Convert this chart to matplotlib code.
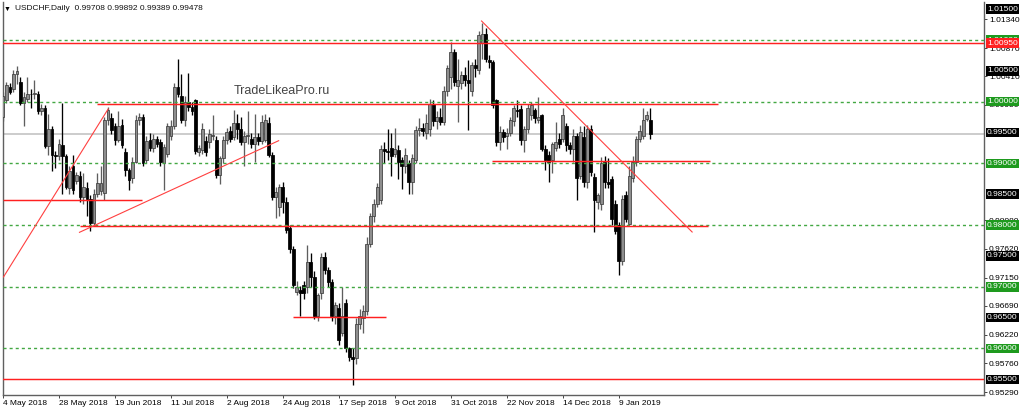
import matplotlib
matplotlib.use("Agg")
import matplotlib.pyplot as plt
import numpy as np

plt.rcParams['font.family'] = ['Liberation Sans', 'DejaVu Sans']

# USDCHF daily candles, prices in 1/10000 (pips)
opens = [9975, 10003, 10024, 10020, 10045, 10032, 9998, 10005, 10013, 10012,
         10012, 9985, 9990, 9928, 9955, 9914, 9912, 9930, 9912, 9860,
         9895, 9872, 9880, 9845, 9860, 9842, 9803, 9850, 9856, 9852,
         9970, 9973, 9960, 9938, 9962, 9918, 9889, 9876, 9903, 9970,
         9976, 9905, 9938, 9925, 9940, 9935, 9900, 9916, 9945, 9960,
         10024, 10010, 9970, 10000, 9992, 10003, 9918, 9922, 9937, 9935,
         9944, 9938, 9882, 9908, 9938, 9952,
         9943, 9965, 9955, 9935,
         9944, 9940, 9932, 9943, 9937, 9938, 9966, 9914, 9846, 9830,
         9862, 9838, 9795, 9762, 9692, 9695, 9703, 9700, 9740, 9716,
         9652, 9690, 9749, 9727, 9708, 9652, 9665, 9625, 9673, 9600,
         9587, 9585, 9640, 9650, 9660, 9770, 9814, 9835, 9840, 9924,
         9920, 9925, 9916, 9922, 9905, 9895, 9900, 9870, 9905, 9954,
         9958, 9950, 9955, 9997, 9968, 9975, 9967, 10018, 10040, 10081,
         10025, 10030, 10043, 10035, 10018, 10060, 10052, 10095, 10110, 10068,
         10065, 10002, 9935, 9951, 9945, 9950, 9968, 9986, 9988, 9938,
         9956, 9978, 9986, 9970, 9978, 9924, 9913, 9905, 9925, 9940,
         9940, 9960, 9930, 9924, 9945, 9880, 9943, 9870, 9956, 9878,
         9838, 9835, 9902, 9870, 9875, 9835, 9800, 9741, 9848, 9802,
         9876, 9902, 9940, 9945, 9972, 9971]
highs = [10015, 10032, 10030, 10052, 10058, 10040, 10015, 10040, 10020, 10035,
         10018, 9996, 9995, 9980, 9960, 9920, 9940, 9998, 9916, 9895,
         9914, 9886, 9888, 9885, 9870, 9848, 9858, 9884, 9896, 9975,
         9992, 9982, 9965, 9985, 9972, 9925, 9892, 9910, 9978, 9982,
         9980, 9945, 9950, 9948, 9945, 9940, 9932, 9965, 9970, 10030,
         10070, 10045, 10010, 10046, 10000, 10005, 9930, 9965, 9945, 9955,
         9978, 9945, 9912, 9945, 9958, 9960,
         9987, 9980, 9975, 9952,
         9985, 9950, 9980, 9950, 9979, 9980, 9975, 9918, 9862, 9866,
         9870, 9845, 9800, 9766, 9710, 9702, 9710, 9768, 9755, 9725,
         9690, 9754, 9757, 9732, 9712, 9675, 9673, 9700, 9680, 9603,
         9600, 9650, 9664, 9670, 9780, 9820, 9843, 9868, 9930, 9934,
         9955, 9950, 9957, 9930, 9910, 9925, 9905, 9915, 9960, 9973,
         9965, 9980, 10005, 10002, 9985, 9990, 10025, 10060, 10097, 10085,
         10070, 10050, 10056, 10067, 10065, 10070, 10115, 10128, 10120, 10075,
         10068, 10005, 9960, 9955, 9958, 9975, 9995, 10002, 9994, 9960,
         9997, 10000, 9990, 10008, 9980, 9930, 9920, 9935, 9967, 9950,
         9990, 9965, 9935, 9955, 9950, 9960, 9960, 9962, 9963, 9885,
         9852, 9910, 9912, 9908, 9880, 9840, 9805, 9848, 9855, 9895,
         9912, 9945, 9962, 9990, 9985, 9989]
lows = [9968, 9998, 10012, 10015, 10028, 9995, 9960, 10000, 9990, 10005,
        9980, 9978, 9925, 9914, 9887, 9893, 9905, 9850, 9858, 9850,
        9850, 9866, 9838, 9835, 9815, 9790, 9798, 9845, 9848, 9840,
        9962, 9948, 9930, 9935, 9925, 9880, 9857, 9868, 9900, 9962,
        9895, 9900, 9920, 9918, 9926, 9895, 9857, 9910, 9938, 9955,
        10008, 9965, 9960, 9985, 9978, 9915, 9912, 9916, 9912, 9925,
        9938, 9876, 9867, 9900, 9932, 9935,
        9938, 9940, 9930, 9895,
        9932, 9925, 9903, 9930, 9932, 9935, 9910, 9840, 9811, 9815,
        9820, 9787, 9755, 9698, 9686, 9652, 9680, 9690, 9700, 9647,
        9645, 9680, 9720, 9700, 9645, 9640, 9605, 9620, 9595, 9580,
        9541, 9575, 9632, 9625, 9655, 9765, 9805, 9830, 9835, 9900,
        9905, 9880, 9910, 9875, 9858, 9885, 9850, 9850, 9900, 9945,
        9945, 9940, 9945, 9960, 9955, 9962, 9962, 10010, 10020, 10025,
        9967, 10020, 10025, 9954, 10010, 10040, 10045, 10070, 10065, 10055,
        9990, 9928, 9921, 9935, 9924, 9945, 9960, 9975, 9930, 9918,
        9950, 9970, 9965, 9965, 9920, 9890, 9870, 9885, 9920, 9925,
        9935, 9920, 9915, 9903, 9840, 9875, 9862, 9860, 9880, 9789,
        9826, 9825, 9860, 9860, 9800, 9785, 9719, 9735, 9805, 9800,
        9870, 9895, 9935, 9940, 9968, 9939]
closes = [10010, 10027, 10016, 10045, 10050, 9998, 10008, 10013, 10012, 10014,
          9985, 9990, 9928, 9955, 9914, 9912, 9932, 9912, 9862, 9888,
          9857, 9881, 9845, 9862, 9842, 9803, 9850, 9868, 9868, 9970,
          9986, 9954, 9938, 9960, 9930, 9889, 9873, 9903, 9970, 9976,
          9900, 9936, 9925, 9940, 9932, 9903, 9927, 9960, 9960, 10024,
          10013, 9970, 10000, 9992, 9985, 9920, 9925, 9955, 9918, 9948,
          9946, 9882, 9908, 9938, 9951, 9940,
          9965, 9955, 9935, 9944,
          9946, 9932, 9943, 9937, 9967, 9970, 9914, 9846, 9854, 9862,
          9838, 9792, 9762, 9703, 9700, 9690, 9690, 9740, 9716, 9652,
          9687, 9749, 9727, 9708, 9652, 9670, 9614, 9652, 9600, 9587,
          9583, 9640, 9652, 9660, 9770, 9814, 9835, 9862, 9924, 9920,
          9918, 9912, 9924, 9903, 9895, 9914, 9870, 9908, 9954, 9957,
          9952, 9965, 9997, 9968, 9975, 9967, 10018, 10054, 10081, 10032,
          10035, 10043, 10035, 10030, 10059, 10054, 10108, 10110, 10070, 10065,
          9994, 9935, 9951, 9943, 9950, 9970, 9989, 9985, 9938, 9956,
          9990, 9994, 9973, 9975, 9924, 9905, 9903, 9932, 9935, 9932,
          9978, 9930, 9924, 9945, 9876, 9951, 9870, 9956, 9886, 9840,
          9848, 9900, 9870, 9866, 9810, 9790, 9741, 9843, 9810, 9880,
          9902, 9940, 9953, 9970, 9978, 9948]

date_ticks = [0, 16, 32, 48, 64, 80, 96, 112, 128, 144, 160, 176]
date_labels = ["4 May 2018", "28 May 2018", "19 Jun 2018", "11 Jul 2018", "2 Aug 2018",
               "24 Aug 2018", "17 Sep 2018", "9 Oct 2018", "31 Oct 2018", "22 Nov 2018",
               "14 Dec 2018", "9 Jan 2019"]

# drawn objects
green_levels = [1.0100, 1.0000, 0.9900, 0.9800, 0.9700, 0.9600]
red_levels = [1.0095, 0.9550]
bid_price = 0.99478
# (price, first bar, last bar)
red_segments = [(0.99963, 26.9, 204.4), (0.99042, 139.8, 202.1), (0.98400, 0.0, 39.8),
                (0.97983, 21.9, 201.6), (0.96508, 82.8, 109.6)]
# (bar1, price1, bar2, price2)
trend_lines = [(0.14, 0.97159, 30.06, 0.99882), (21.86, 0.97883, 78.8, 0.99368),
               (136.8, 1.01308, 197.0, 0.97888)]

# price scale labels that are not covered by the level boxes
scale_ticks = [1.0134, 1.0087, 1.0041, 0.9995, 0.9808,
               0.9762, 0.9715, 0.9669, 0.9622, 0.9576, 0.9529]
black_boxes = [1.015, 1.005, 0.995, 0.985, 0.975, 0.965, 0.955]

assert len(opens) == len(highs) == len(lows) == len(closes)

o = np.array(opens) / 10000
h = np.array(highs) / 10000
l = np.array(lows) / 10000
c = np.array(closes) / 10000
idx = np.arange(len(c))
up = c >= o

fig = plt.figure(figsize=(10.24, 4.13), dpi=100)
ax = fig.add_axes([3 / 1024, 18.3 / 413, 981 / 1024, 392.7 / 413])

#bid line behind candles
ax.axhline(bid_price, color='#c4c4c4', lw=1.2, zorder=1)

#candles
ax.vlines(idx[up], l[up], h[up], color='#5e5e5e', lw=0.95, zorder=3)
ax.vlines(idx[~up], l[~up], h[~up], color='black', lw=0.95, zorder=3)
body = np.maximum(np.abs(c - o), 0.00004)
bottom = np.minimum(o, c)
ax.bar(idx[up], body[up], bottom=bottom[up], width=0.8, color='#8e8e8e',
       edgecolor='#3c3c3c', linewidth=0.55, zorder=4)
ax.bar(idx[~up], body[~up], bottom=bottom[~up], width=0.8, color='black',
       edgecolor='black', linewidth=0.55, zorder=4)

#horizontal levels
for p in green_levels:
    ax.axhline(p, color='#43a843', lw=1.0, ls=(0, (2.2, 2.2)), zorder=5)
for p in red_levels:
    ax.axhline(p, color='#ff2020', lw=1.05, zorder=5)
for p, k1, k2 in red_segments:
    ax.hlines(p, k1, k2, color='#ff2020', lw=1.05, zorder=5)
for k1, p1, k2, p2 in trend_lines:
    ax.plot([k1, k2], [p1, p2], color='#ff4040', lw=0.8, zorder=5)

ax.text(65.9, 1.00173, "TradeLikeaPro.ru", fontsize=9, color='#444444',
        va='center', ha='left', zorder=6)

ax.set_xlim(0.143, 280.43)
ax.set_ylim(0.95251, 1.01616)

#axes look
for side in ['left', 'bottom', 'right']:
    ax.spines[side].set_color('#606060')
    ax.spines[side].set_linewidth(1.0)
ax.spines['top'].set_visible(False)

ax.set_xticks(date_ticks)
ax.set_xticklabels(date_labels, ha='left')
ax.tick_params(axis='x', length=2.5, width=0.7, pad=1.5, labelsize=6, color='#444444')

ax.yaxis.tick_right()
ax.set_yticks(scale_ticks)
ax.set_yticklabels(["%.5f" % p for p in scale_ticks])
ax.tick_params(axis='y', length=2, width=0.7, pad=1.5, labelsize=6, color='#444444')

def price_box(p, fc):
    ax.annotate("%.5f" % p, xy=(1, p), xycoords=('axes fraction', 'data'),
                xytext=(3, 0), textcoords='offset pixels', ha='left', va='center',
                fontsize=6, color='white', annotation_clip=False, zorder=10,
                bbox=dict(boxstyle='square,pad=0.15', fc=fc, ec='none'))

for p in black_boxes:
    price_box(p, 'black')
for p in green_levels:
    price_box(p, '#1e9a1e')
price_box(red_levels[0], '#ff2020')

fig.text(4 / 1024, 1 - 9 / 413, "\u25bc", fontsize=5, va='center', ha='left')
fig.text(15 / 1024, 1 - 9 / 413, "USDCHF,Daily  0.99708 0.99892 0.99389 0.99478",
         fontsize=6, va='center', ha='left', color='#111111')

fig.savefig("out.png", dpi=100)
